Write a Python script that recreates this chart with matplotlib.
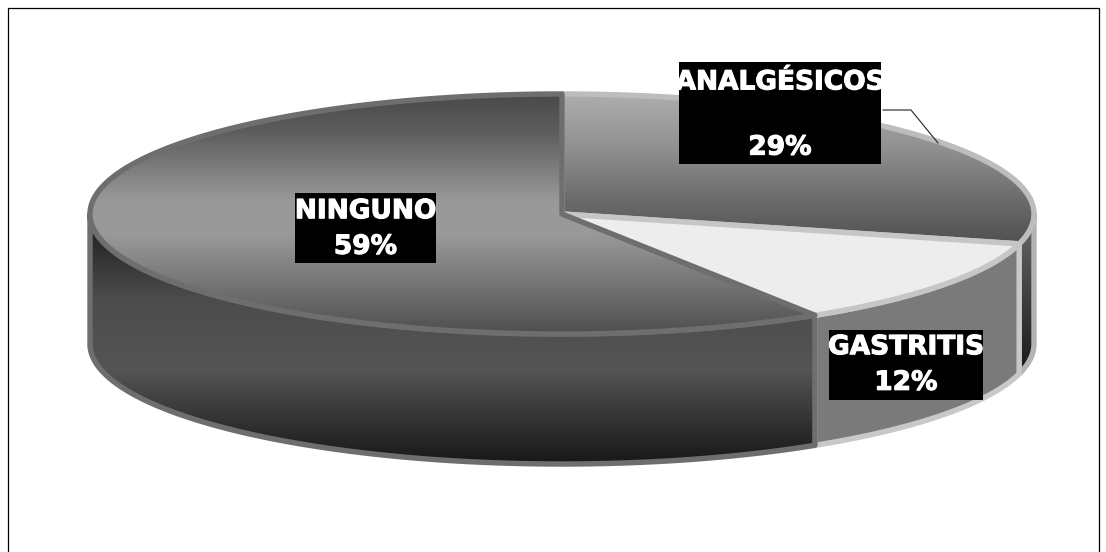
import numpy as np
import matplotlib
matplotlib.use("Agg")
import matplotlib.pyplot as plt
import matplotlib.patheffects as pe
from matplotlib.patches import Polygon, Rectangle

categories = ["ANALGÉSICOS", "GASTRITIS", "NINGUNO"]
percent = [29, 12, 59]

W, H = 1106, 552
fig = plt.figure(figsize=(W/100, H/100), dpi=100, facecolor="white")
ax = fig.add_axes([0, 0, 1, 1])
ax.set_xlim(0, W); ax.set_ylim(H, 0); ax.axis("off")

ax.add_patch(Rectangle((7.5, 7.5), 1091, 575, fill=False, ec="black", lw=0.9))

cx, cy, rx, ry, depth = 562, 214, 472, 120, 130
edges = np.cumsum([0] + percent) / 100 * 2*np.pi


def pt(a):
    return cx + rx*np.sin(a), cy - ry*np.cos(a)


def fill(xs, ys, ystops, z, ec, lw):
    """Fill a polygon with a vertical gray gradient given as (y, gray) stops."""
    p = Polygon(np.c_[xs, ys], closed=True, fc="none", ec="none", zorder=z)
    ax.add_patch(p)
    yy = np.linspace(80, 480, 401)
    g = np.interp(yy, [s[0] for s in ystops], [s[1] for s in ystops])
    img = np.repeat(g[:, None, None], 3, axis=2)
    im = ax.imshow(img, extent=(0, W, 480, 80), aspect="auto", zorder=z,
                   interpolation="bilinear", vmin=0, vmax=1)
    im.set_clip_path(p)
    ax.set_xlim(0, W); ax.set_ylim(H, 0)
    ax.add_patch(Polygon(np.c_[xs, ys], closed=True, fc="none", ec=ec, lw=lw,
                         zorder=z+0.1, joinstyle="round"))


def wall(a0, a1, ystops, z, ec, lw=3.9):
    x, y = pt(np.linspace(a0, a1, 300))
    fill(np.r_[x, x[::-1]], np.r_[y, (y + depth)[::-1]], ystops, z, ec, lw)


def top(a0, a1, ystops, z, ec, lw=3.9):
    x, y = pt(np.linspace(a0, a1, 400))
    fill(np.r_[cx, x], np.r_[cy, y], ystops, z, ec, lw)


# side walls, back to front
wall(np.pi/2, edges[1], [(240, .36), (300, .24), (378, .09)], 2, "#b4b4b4")
wall(edges[1], edges[2], [(200, .48), (480, .48)], 3, "#c8c8c8")
wall(edges[2], 1.5*np.pi, [(225, .13), (300, .30), (370, .33), (420, .20), (465, .09)], 4, "#6e6e6e")

# top faces
top(edges[0], edges[1], [(94, .68), (150, .56), (200, .42), (250, .30)], 6, "#bdbdbd")
top(edges[1], edges[2], [(200, .93), (340, .93)], 7, "#c6c6c6")
top(edges[2], edges[3], [(94, .29), (130, .36), (200, .60), (235, .60), (290, .44), (336, .30)], 8, "#6e6e6e")

# leader line
ax.plot([883, 911, 938], [110, 110, 143], color="#222222", lw=0.8, zorder=9)

# labels: (left, top, width, height, text-centre shift)
boxes = [(679, 62, 202, 102, 2), (829, 330, 154, 70, 0), (295, 193, 141, 70, 1)]
spacing = [1.33, 1.48, 1.48]
for i, (bx, by, bw, bh, dy) in enumerate(boxes):
    ax.add_patch(Rectangle((bx, by), bw, bh, fc="black", ec="none", zorder=10))
    sep = "\n\n" if i == 0 else "\n"
    ax.text(bx + bw/2, by + bh/2 + dy, f"{categories[i]}{sep}{percent[i]}%",
            family="DejaVu Sans", weight="bold", color="white", ha="center", va="center",
            fontsize=19, linespacing=spacing[i], zorder=11,
            path_effects=[pe.withStroke(linewidth=0.8, foreground="white")])

fig.savefig("out.png", dpi=100, facecolor="white")
